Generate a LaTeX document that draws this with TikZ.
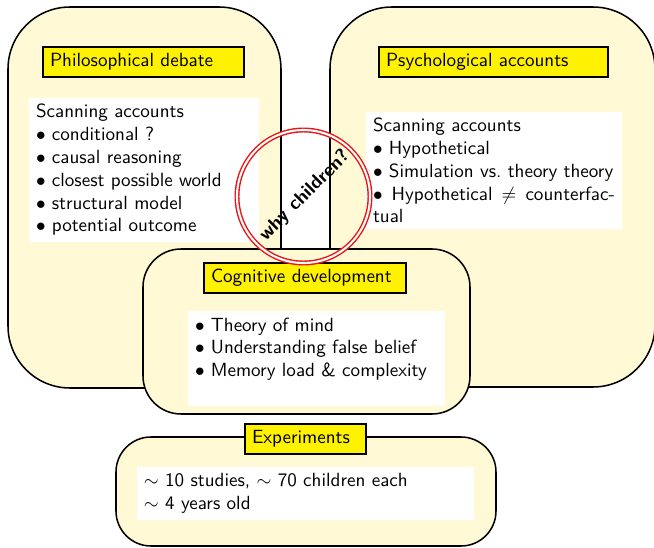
\documentclass[tikz,border=0pt]{standalone}
\usepackage{amssymb}
\newlength\pxu
\setlength\pxu{0.524pt}
\definecolor{boxfill}{RGB}{255,249,214}
\definecolor{titlefill}{RGB}{255,242,0}
\definecolor{ringred}{RGB}{235,20,20}
\tikzset{
  bigbox/.style={draw=black, line width=0.8pt, fill=boxfill, rounded corners=#1, inner sep=0pt},
  whitebox/.style={fill=white, inner xsep=7\pxu, inner ysep=0pt, align=left, font=\sffamily\fontsize{10}{11.95}\selectfont},
  titlebox/.style={draw=black, line width=0.9pt, fill=titlefill, inner xsep=7\pxu, inner ysep=0pt, minimum height=30\pxu, align=left, font=\sffamily\fontsize{10}{12}\selectfont},
  ring/.style={draw=ringred, line width=0.75pt, double=white, double distance=1.1pt}
}
\begin{document}
\begin{tikzpicture}[x=0.524pt, y=-0.524pt]
\useasboundingbox (0,0) rectangle (654,548);
% big boxes
\node[bigbox=62\pxu, minimum width=273\pxu, minimum height=381\pxu] (philbox) at (144.5,197.5) {};
\node[bigbox=62\pxu, minimum width=325\pxu, minimum height=380\pxu] (psychbox) at (492.5,197) {};
% contents
\node[whitebox, minimum width=230\pxu, minimum height=144\pxu, text width=216\pxu] (philtext) at (144,170) {Scanning accounts\\ $\bullet$ conditional ?\\ $\bullet$ causal reasoning\\ $\bullet$ closest possible world\\ $\bullet$ structural model\\ $\bullet$ potential outcome};
\node[whitebox, minimum width=256\pxu, minimum height=117\pxu, text width=242\pxu, align=justify] (psychtext) at (494,170.5) {Scanning accounts\\ $\bullet$ Hypothetical\\ $\bullet$ Simulation vs.\ theory theory\\ $\bullet$ Hypothetical $\neq$ counterfac\-tual};
% titles
\node[titlebox, text width=187\pxu] (philtitle) at (143.5,62) {Philosophical debate};
\node[titlebox, text width=215\pxu] (psychtitle) at (493.5,62) {Psychological accounts};
% cognitive development
\node[bigbox=38\pxu, minimum width=327\pxu, minimum height=165\pxu] (cogbox) at (306.5,331.5) {};
\node[whitebox, minimum width=257\pxu, minimum height=95\pxu, text width=243\pxu] (cogtext) at (316.5,358.5) {$\bullet$ Theory of mind\\ $\bullet$ Understanding false belief\\ $\bullet$ Memory load \& complexity\\ \mbox{}};
\node[titlebox, text width=188\pxu] (cogtitle) at (305,278) {Cognitive development};
% experiments
\node[bigbox=35\pxu, minimum width=380\pxu, minimum height=109\pxu] (expbox) at (306,491.5) {};
\node[whitebox, minimum width=337\pxu, minimum height=53\pxu, text width=323\pxu] (exptext) at (305.5,493) {$\sim$ 10 studies, $\sim$ 70 children each\\ $\sim$ 4 years old};
\node[titlebox, text width=107\pxu] (exptitle) at (305.5,439) {Experiments};
% ring
\node[ring, circle, minimum size=133\pxu, inner sep=0pt] (ringnode) at (303.5,196.5) {};
\node[rotate=45, font=\sffamily\bfseries\fontsize{10}{12}\selectfont, inner sep=0pt] (why) at (305,195.5) {why children?};
\end{tikzpicture}
\end{document}
